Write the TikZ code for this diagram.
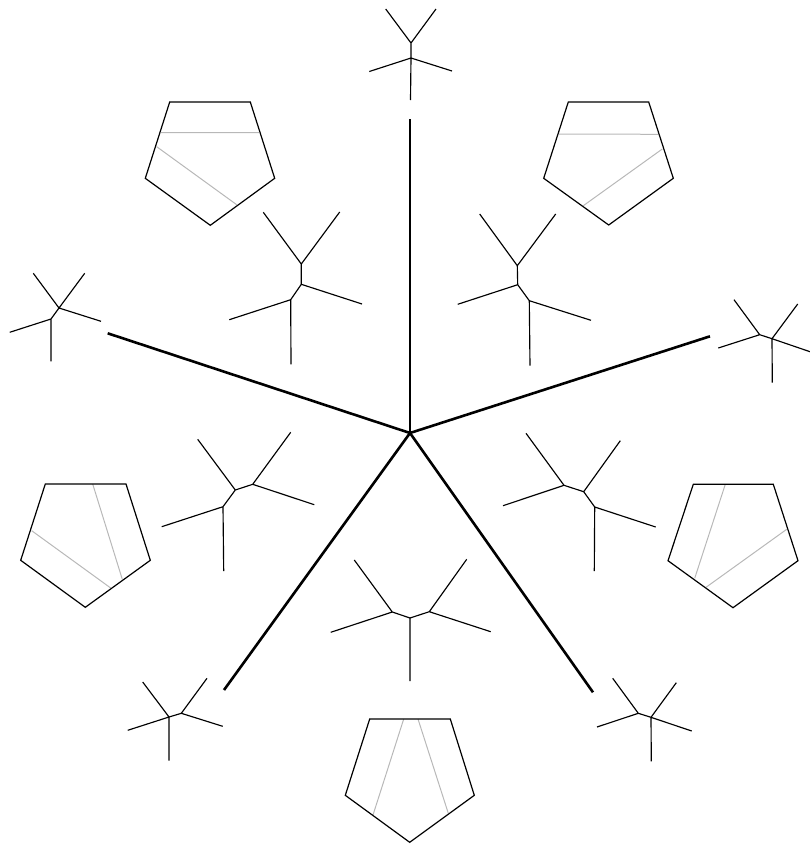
\documentclass[tikz,border=0pt]{standalone}
\tikzset{
  spoke/.style={line width=2.6pt,black,line cap=butt},
  treeedge/.style={line width=1.15pt,black,line join=round},
  pentagon/.style={line width=1.2pt,black,line join=miter},
  chord/.style={line width=1pt,black!28}
}
\begin{document}
\begin{tikzpicture}[x=1pt,y=-1pt]
\useasboundingbox (0,0) rectangle (810,844);
% spokes
\coordinate (c) at (410,433);
\coordinate (s1) at (410,119);
\coordinate (s2) at (710,336.3);
\coordinate (s3) at (593,692.3);
\coordinate (s4) at (224,690);
\coordinate (s5) at (107.7,333.3);
\foreach \s in {s1,s2,s3,s4,s5} \draw[spoke] (c) -- (\s);
% chords then pentagons
\draw[chord] (161,132.7) -- (259,132.7) (156.7,146.7) -- (236.7,204.7);
\draw[pentagon] (169.7,102) -- (250.3,102) -- (274.7,178.3) -- (210.3,225.3) -- (145.3,178.3) -- cycle;
\draw[chord] (559,134) -- (658.3,134.3) (662.3,149) -- (583.3,205.7);
\draw[pentagon] (568.3,102) -- (648.7,102) -- (673.3,178.3) -- (608.7,225) -- (543.7,178.3) -- cycle;
\draw[chord] (92.7,484) -- (122.3,579.3) (31.7,530.7) -- (110.7,588);
\draw[pentagon] (45.3,484) -- (126,484) -- (150.3,560.3) -- (85.3,607.3) -- (20.7,560.3) -- cycle;
\draw[chord] (725.3,484.3) -- (694.7,578.3) (786.7,529.3) -- (706,587.3);
\draw[pentagon] (693.3,484.3) -- (773.3,484.3) -- (798,560.7) -- (733,607.7) -- (668,560.7) -- cycle;
\draw[chord] (403.7,719) -- (373,815) (418,719) -- (448.3,813.3);
\draw[pentagon] (369.7,719) -- (450.3,719) -- (474.3,795.3) -- (409.7,842.3) -- (345.3,795.3) -- cycle;
% small trees
\draw[treeedge] (385.7,9) -- (411,43) -- (436,9) (411,43) -- (411,58) (369.3,71.5) -- (411,58) -- (452,71) (411,58) -- (410.5,100);
\draw[treeedge] (734,299.7) -- (759.7,334.7) -- (718.3,348) (759.7,334.7) -- (772,338.7) -- (797.7,304) (772,338.7) -- (810,351.7) (772,338.7) -- (772.3,382.7);
\draw[treeedge] (33.3,273.3) -- (59,308) -- (84.7,273.3) (59,308) -- (101,321.3) (59,308) -- (51,319) -- (9.7,332.3) (51,319) -- (51,361.3);
\draw[treeedge] (612.7,678.3) -- (638.3,713.3) -- (597,727) (638.3,713.3) -- (651,717.3) -- (676.3,682.7) (651,717.3) -- (691.7,731) (651,717.3) -- (651.3,761.3);
\draw[treeedge] (142.7,682) -- (169,717) -- (127.7,730.3) (169,717) -- (169,760.7) (169,717) -- (181.3,713.3) -- (207,678.3) (181.3,713.3) -- (222.7,726.3);
% large trees
\draw[treeedge] (263.3,212.3) -- (301.3,264) -- (339.7,212) (301.3,264) -- (301.3,284.3) -- (362,304) (301.3,284.3) -- (290.7,299.7) -- (229.3,319.7) (290.7,299.7) -- (291,364.3);
\draw[treeedge] (479.7,214) -- (517.3,265.7) -- (555.7,214) (517.3,265.7) -- (517.7,284.7) -- (457.7,304.3) (517.7,284.7) -- (529.3,300.7) -- (591,320.3) (529.3,300.7) -- (530,365.7);
\draw[treeedge] (197.7,439.3) -- (235.3,490) -- (252.7,484.3) -- (290.7,432.3) (252.7,484.3) -- (314.3,504.7) (235.3,490) -- (223,506.7) -- (161.7,526.7) (223,506.7) -- (223.7,571);
\draw[treeedge] (526,433.3) -- (564,485.3) -- (503,505.7) (564,485.3) -- (583.7,491.7) -- (620.3,440.7) (583.7,491.7) -- (594.7,507) -- (655.7,527) (594.7,507) -- (594.3,571);
\draw[treeedge] (354.3,560) -- (392.3,612) -- (330.7,632.3) (392.3,612) -- (410,618) -- (429.3,611.7) -- (466.7,559.3) (429.3,611.7) -- (490.7,631.7) (410,618) -- (410,681);
\end{tikzpicture}
\end{document}
